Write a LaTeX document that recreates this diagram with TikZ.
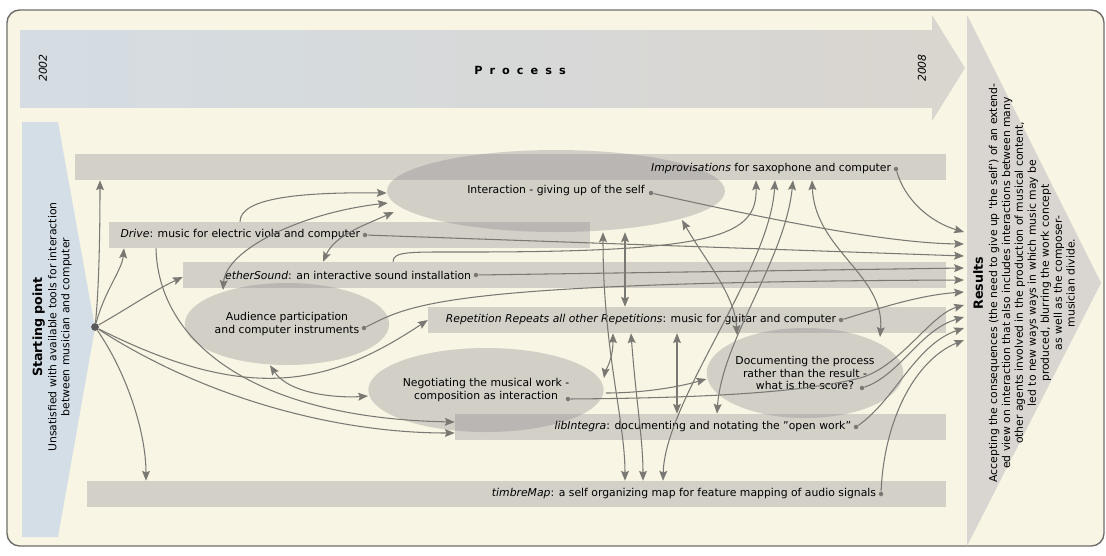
\documentclass[tikz,border=0pt]{standalone}
\usepackage{fontspec}
\setmainfont{DejaVu Sans}
\usetikzlibrary{arrows.meta,shapes.geometric,fit,calc}

\definecolor{paper}{HTML}{F8F5E4}
\definecolor{framegray}{HTML}{6E6D69}
\definecolor{bargray}{HTML}{D3D0C8}
\definecolor{blobgray}{HTML}{7D7A87}
\definecolor{wiregray}{HTML}{7A7873}
\definecolor{startblue}{HTML}{D3DEE6}
\definecolor{resultgray}{HTML}{D9D6D1}
\definecolor{procblue}{HTML}{D5DDE3}
\definecolor{procgray}{HTML}{D9D5CF}

\newcommand{\pxu}{0.025cm}

\tikzset{
  bar/.style={fill=bargray, inner sep=0pt},
  blob/.style={ellipse, fill=blobgray, fill opacity=0.3, text opacity=1, inner sep=0pt, align=center},
  lbl/.style={inner sep=1.5pt, anchor=east},
  srcdot/.style={circle, fill=wiregray, inner sep=0pt, minimum size=3.2pt},
  conn/.style={draw=wiregray, line width=0.75pt, ->},
  dconn/.style={conn, <->},
}

\begin{document}
\begin{tikzpicture}[x=\pxu, y=-\pxu, >={Stealth[length=7pt,width=5.6pt,inset=1.2pt]}, font=\fontsize{7.7}{9.2}\selectfont]
    \useasboundingbox (0,0) rectangle (1106,555) ;
    \draw [framegray, line width=1pt, fill=paper, rounded corners=9pt] (7,10) rectangle (1104,546) ;

    \shade [left color=procblue, right color=procgray] (20,30) rectangle (932,107) ;
    \fill [procgray] (932,15) -- (965,68) -- (932,121) -- cycle ;
    \node [rotate=90, font=\fontsize{7.7}{9.2}\selectfont\itshape] (year-start) at (43,68) {2002} ;
    \node [rotate=90, font=\fontsize{7.7}{9.2}\selectfont\itshape] (year-end) at (922,68) {2008} ;
    \node [font=\fontsize{8}{9.6}\selectfont\bfseries] (proc-lbl) at (520,70) {P\hspace{5pt}r\hspace{5pt}o\hspace{5pt}c\hspace{5pt}e\hspace{5pt}s\hspace{5pt}s} ;

    \fill [startblue] (22,122) -- (58,122) -- (95,328) -- (58,537) -- (22,537) -- cycle ;
    \node [rotate=90, align=center] (start-lbl) at (52,327) {{\fontsize{9}{11}\selectfont\bfseries Starting point}\\[1pt]Unsatisfied with available tools for interaction\\between musician and computer} ;

    \fill [resultgray] (967,15) -- (1101,283) -- (967,546) -- cycle ;
    \node [rotate=90, align=center] (res-lbl) at (1024,283) {{\fontsize{9}{11}\selectfont\bfseries Results}\\[1pt]Accepting the consequences (the need to give up \textquotesingle the self\textquotesingle) of an extend-\\ed view on interaction that also includes interactions between many\\other agents involved in the production of musical content,\\led to new ways ways in which music may be\\produced, blurring the work concept\\as well as the composer-\\musician divide.} ;
    \foreach \k/\yy in {1/232,2/244,3/256,4/268,5/280,6/292,7/305,8/317,9/328,10/340}
        \coordinate (res\k) at (964,\yy) ;

    \node [bar, fit={(75,154) (946,180)}] (impro) {} ;
    \node [bar, fit={(109,222) (590,248)}] (drive) {} ;
    \node [bar, fit={(183,262) (946,288)}] (ether) {} ;
    \node [bar, fit={(428,307) (946,333)}] (repet) {} ;
    \node [bar, fit={(455,414) (946,440)}] (libint) {} ;
    \node [bar, fit={(87,481) (946,507)}] (timbre) {} ;

    \node [blob, minimum width=338*\pxu, minimum height=82*\pxu] (inter) at (556,191) {Interaction - giving up of the self} ;
    \node [blob, minimum width=194*\pxu, minimum height=82*\pxu] (aud) at (287,324) {Audience participation\\and computer instruments} ;
    \node [blob, minimum width=194*\pxu, minimum height=84*\pxu] (nego) at (486,390) {Negotiating the musical work -\\composition as interaction} ;
    \node [blob, minimum width=194*\pxu, minimum height=90*\pxu] (docu) at (805,373) {Documenting the process\\rather than the result -\\what is the score?} ;

    \node [srcdot] (impro-dot) at (896,169) {} ;
    \node [srcdot] (inter-dot) at (651,193) {} ;
    \node [srcdot] (drive-dot) at (365,235) {} ;
    \node [srcdot] (ether-dot) at (476,275) {} ;
    \node [srcdot] (aud-dot) at (364,328) {} ;
    \node [srcdot] (repet-dot) at (841,320) {} ;
    \node [srcdot] (nego-dot) at (568,399) {} ;
    \node [srcdot] (docu-dot) at (862,388) {} ;
    \node [srcdot] (libint-dot) at (856,427) {} ;
    \node [srcdot] (timbre-dot) at (881,494) {} ;

    \node [lbl] (impro-lbl) at (impro-dot.west) {\textit{Improvisations} for saxophone and computer} ;
    \node [lbl] (drive-lbl) at (drive-dot.west) {\textit{Drive}: music for electric viola and computer} ;
    \node [lbl] (ether-lbl) at (ether-dot.west) {\textit{etherSound}: an interactive sound installation} ;
    \node [lbl] (repet-lbl) at (repet-dot.west) {\textit{Repetition Repeats all other Repetitions}: music for guitar and computer} ;
    \node [lbl] (libint-lbl) at (libint-dot.west) {\textit{libIntegra}: documenting and notating the "open work"} ;
    \node [lbl] (timbre-lbl) at (timbre-dot.west) {\textit{timbreMap}: a self organizing map for feature mapping of audio signals} ;

    \node [circle, fill=black!65, inner sep=0pt, minimum size=5.5pt] (sp) at (95,327) {} ;

    \draw [conn] (sp) .. controls (99,290) and (100,230) .. (impro.south -| 100,0) ;
    \draw [conn] (sp) .. controls (105,290) and (122,270) .. (drive.south -| 124,0) ;
    \draw [conn] (sp) .. controls (125,310) and (155,290) .. (ether.west |- 0,277) ;
    \draw [conn] (sp) .. controls (250,405) and (330,385) .. (repet.west |- 0,320) ;
    \draw [conn] (sp) .. controls (200,395) and (330,433) .. (libint.west |- 0,433) ;
    \draw [conn] (sp) .. controls (125,370) and (146,430) .. (timbre.north -| 146,0) ;
    \draw [conn] (drive.south -| 156,0) .. controls (158,340) and (250,418) .. (libint.west |- 0,422) ;

    \draw [conn] (drive.north -| 240,0) .. controls (240,198) and (300,192) .. ($(inter.west)+(0,2)$) ;
    \draw [dconn] ($(aud.center)+(-64,-34)$) .. controls (226,250) and (300,213) .. ($(inter.west)+(1,12)$) ;
    \draw [dconn] (ether.north -| 323,0) .. controls (335,235) and (365,225) .. ($(inter.west)+(7,21)$) ;
    \draw [conn] (ether.north -| 393,0) .. controls (393,251) and (410,252) .. (470,252) .. controls (720,252) and (757,235) .. (impro.south -| 756,0) ;

    \draw [dconn] (inter.south -| 625,0) -- (repet.north -| 625,0) ;
    \draw [dconn] (inter.south -| 603,0) .. controls (603,350) and (625,420) .. (timbre.north -| 625,0) ;
    \draw [dconn] (repet.south -| 631,0) .. controls (636,400) and (643,440) .. (timbre.north -| 643,0) ;
    \draw [dconn] (repet.south -| 677,0) -- (libint.north -| 677,0) ;
    \draw [dconn] (impro.south -| 775,0) .. controls (770,270) and (665,400) .. (timbre.north -| 663,0) ;
    \draw [dconn] (impro.south -| 793,0) .. controls (785,260) and (722,340) .. (libint.north -| 717,0) ;
    \draw [dconn] (impro.south -| 812,0) .. controls (815,250) and (885,275) .. ($(docu.center)+(75,-36)$) ;
    \draw [dconn] ($(inter.center)+(126,29)$) .. controls (705,260) and (735,295) .. ($(docu.center)+(-68,-38)$) ;
    \draw [dconn] ($(nego.east)+(0,-12)$) .. controls (605,372) and (613,360) .. (repet.south -| 613,0) ;
    \draw [conn] ($(nego.east)+(2,3)$) .. controls (640,393) and (675,388) .. ($(docu.west)+(0,6)$) ;
    \draw [dconn] (aud.south -| 270,0) .. controls (290,395) and (340,398) .. ($(nego.west)+(0,6)$) ;

    \draw [conn] (impro-dot) .. controls (905,200) and (930,222) .. (res1) ;
    \draw [conn] (inter-dot) .. controls (750,215) and (880,243) .. (res2) ;
    \draw [conn] (drive-dot) -- (res3) ;
    \draw [conn] (ether-dot) -- (res4) ;
    \draw [conn] (aud-dot) .. controls (410,305) and (440,282) .. (res5) ;
    \draw [conn] (repet-dot) .. controls (880,308) and (920,295) .. (res6) ;
    \draw [conn] (nego-dot) .. controls (700,398) and (800,393) .. (860,378) .. controls (900,367) and (930,315) .. (res7) ;
    \draw [conn] (docu-dot) .. controls (900,375) and (920,330) .. (res8) ;
    \draw [conn] (libint-dot) .. controls (895,400) and (915,345) .. (res9) ;
    \draw [conn] (timbre-dot) .. controls (884,420) and (915,360) .. (res10) ;
\end{tikzpicture}
\end{document}
